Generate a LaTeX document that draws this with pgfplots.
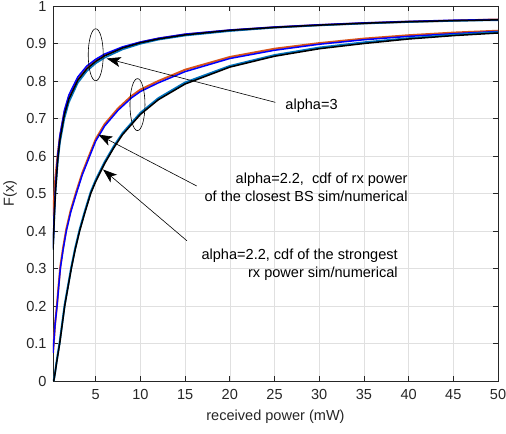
\documentclass[border=0pt]{standalone}
\usepackage{fontspec}
\setmainfont{Liberation Sans}
\usepackage{pgfplots}
\pgfplotsset{compat=1.18}
\usetikzlibrary{arrows.meta}
\definecolor{mlorange}{RGB}{217,83,25}
\definecolor{mlblue}{RGB}{0,114,189}
\definecolor{axgray}{RGB}{38,38,38}
\newcommand{\lbl}{\fontsize{14.6}{18.3}\selectfont}

\begin{document}
\begin{tikzpicture}
\begin{axis}[name=ax, at={(0,0)}, anchor=south west,
  scale only axis, width=445bp, height=375bp,
  xmin=0.22, xmax=50, ymin=0, ymax=1,
  xtick={5,10,15,20,25,30,35,40,45,50},
  ytick={0,0.1,0.2,0.3,0.4,0.5,0.6,0.7,0.8,0.9,1},
  grid=major, major grid style={black!12, line width=0.6bp},
  axis line style={axgray, line width=0.7bp},
  tick style={axgray, line width=0.7bp}, major tick length=5bp,
  tick label style={font=\lbl, text=axgray},
  xticklabel style={yshift=-5bp},
  yticklabel style={xshift=-3bp},
  /pgf/number format/assume math mode=true,
  xlabel={received power (mW)}, ylabel={F(x)},
  label style={font=\lbl, text=axgray},
  xlabel style={at={(axis description cs:0.5,0)}, anchor=center, yshift=-35.7bp},
  ylabel style={at={(axis description cs:0,0.5)}, anchor=center, rotate=0, yshift=43bp},
  every axis plot/.append style={no marks, line width=1.5bp},
]
% alpha = 3
\addplot[mlorange, line width=2bp] coordinates {(0.22,0.44)(0.3,0.47)(0.4,0.51)(0.5,0.545)(0.75,0.605)(1,0.652)(1.5,0.717)(2,0.758)(3,0.807)(4,0.836)(5,0.855)(6,0.869)(8,0.889)(10,0.903)(12,0.913)(15,0.924)(20,0.935)(25,0.943)(30,0.949)(35,0.954)(40,0.958)(45,0.961)(50,0.964)};
\addplot[mlblue] coordinates {(0.22,0.35)(0.3,0.39)(0.4,0.45)(0.5,0.50)(0.75,0.58)(1,0.635)(1.5,0.70)(2,0.743)(3,0.795)(4,0.826)(5,0.847)(6,0.862)(8,0.884)(10,0.899)(12,0.910)(15,0.921)(20,0.933)(25,0.942)(30,0.948)(35,0.953)(40,0.957)(45,0.960)(50,0.962)};
\addplot[blue] coordinates {(0.22,0.355)(0.3,0.405)(0.4,0.468)(0.5,0.518)(0.75,0.602)(1,0.656)(1.5,0.722)(2,0.763)(3,0.811)(4,0.840)(5,0.858)(6,0.872)(8,0.891)(10,0.904)(12,0.914)(15,0.925)(20,0.936)(25,0.944)(30,0.950)(35,0.955)(40,0.959)(45,0.962)(50,0.964)};
\addplot[black] coordinates {(0.22,0.35)(0.3,0.395)(0.4,0.457)(0.5,0.507)(0.75,0.59)(1,0.644)(1.5,0.711)(2,0.752)(3,0.802)(4,0.832)(5,0.852)(6,0.867)(8,0.888)(10,0.902)(12,0.912)(15,0.923)(20,0.935)(25,0.943)(30,0.949)(35,0.954)(40,0.958)(45,0.961)(50,0.963)};
% alpha = 2.2, closest BS
\addplot[mlorange, line width=2bp] coordinates {(0.22,0.075)(0.3,0.10)(0.45,0.152)(0.67,0.204)(0.85,0.255)(1.04,0.305)(1.35,0.355)(1.71,0.405)(2.2,0.455)(2.83,0.505)(3.5,0.555)(4.33,0.605)(5,0.645)(6,0.685)(7.5,0.727)(9,0.76)(10,0.777)(12,0.80)(15,0.83)(20,0.864)(25,0.886)(30,0.901)(35,0.913)(40,0.922)(45,0.929)(50,0.934)};
\addplot[blue] coordinates {(0.22,0.075)(0.3,0.10)(0.45,0.15)(0.67,0.2)(0.85,0.25)(1.04,0.3)(1.35,0.35)(1.71,0.4)(2.2,0.45)(2.83,0.5)(3.5,0.55)(4.33,0.6)(5,0.64)(6,0.68)(7.5,0.722)(9,0.755)(10,0.772)(12,0.795)(15,0.825)(20,0.86)(25,0.882)(30,0.898)(35,0.910)(40,0.919)(45,0.926)(50,0.932)};
% alpha = 2.2, strongest BS
\addplot[mlblue, line width=2bp] coordinates {(0.3,0)(0.45,0.022)(0.6,0.048)(0.8,0.079)(0.97,0.104)(1.25,0.154)(1.53,0.204)(1.9,0.254)(2.27,0.304)(2.7,0.354)(3.2,0.404)(3.8,0.454)(4.44,0.504)(5,0.536)(6,0.584)(7,0.625)(8,0.661)(10,0.715)(12,0.754)(15,0.796)(20,0.84)(25,0.869)(30,0.889)(35,0.903)(40,0.914)(45,0.923)(50,0.93)};
\addplot[black] coordinates {(0.3,0)(0.45,0.02)(0.6,0.045)(0.8,0.075)(0.97,0.1)(1.25,0.15)(1.53,0.2)(1.9,0.25)(2.27,0.3)(2.7,0.35)(3.2,0.4)(3.8,0.45)(4.44,0.5)(5,0.532)(6,0.58)(7,0.621)(8,0.657)(10,0.711)(12,0.75)(15,0.792)(20,0.837)(25,0.866)(30,0.886)(35,0.9)(40,0.912)(45,0.921)(50,0.928)};
% annotations
\draw[line width=0.6bp] (axis cs:5,0.87) ellipse [x radius=7.5bp, y radius=26bp];
\draw[line width=0.6bp] (axis cs:9.67,0.737) ellipse [x radius=7.5bp, y radius=26bp];
\draw[line width=0.6bp, -{Stealth[length=14bp,width=10bp,inset=3.5bp]}] (axis cs:25.1,0.743) -- (axis cs:6.23,0.860);
\draw[line width=0.6bp, -{Stealth[length=14bp,width=10bp,inset=3.5bp]}] (axis cs:16.3,0.52) -- (axis cs:5.29,0.657);
\draw[line width=0.6bp, -{Stealth[length=14bp,width=10bp,inset=3.5bp]}] (axis cs:15.2,0.374) -- (axis cs:5.82,0.564);
\node[anchor=west, inner sep=0, font=\lbl] at (axis cs:26.2,0.735) {alpha=3};
\node[anchor=east, inner sep=0, align=right, font=\lbl] at (axis cs:39.9,0.517) {alpha=2.2,\ \ cdf of rx power\\of the closest BS sim/numerical};
\node[anchor=east, inner sep=0, align=right, font=\lbl] at (axis cs:38.8,0.31) {alpha=2.2, cdf of the strongest\\rx power sim/numerical};
\end{axis}
\pgfresetboundingbox
\path[use as bounding box] ([xshift=-53bp,yshift=-53bp]ax.south west) rectangle ([xshift=8bp,yshift=6bp]ax.north east);
\end{tikzpicture}
\end{document}
